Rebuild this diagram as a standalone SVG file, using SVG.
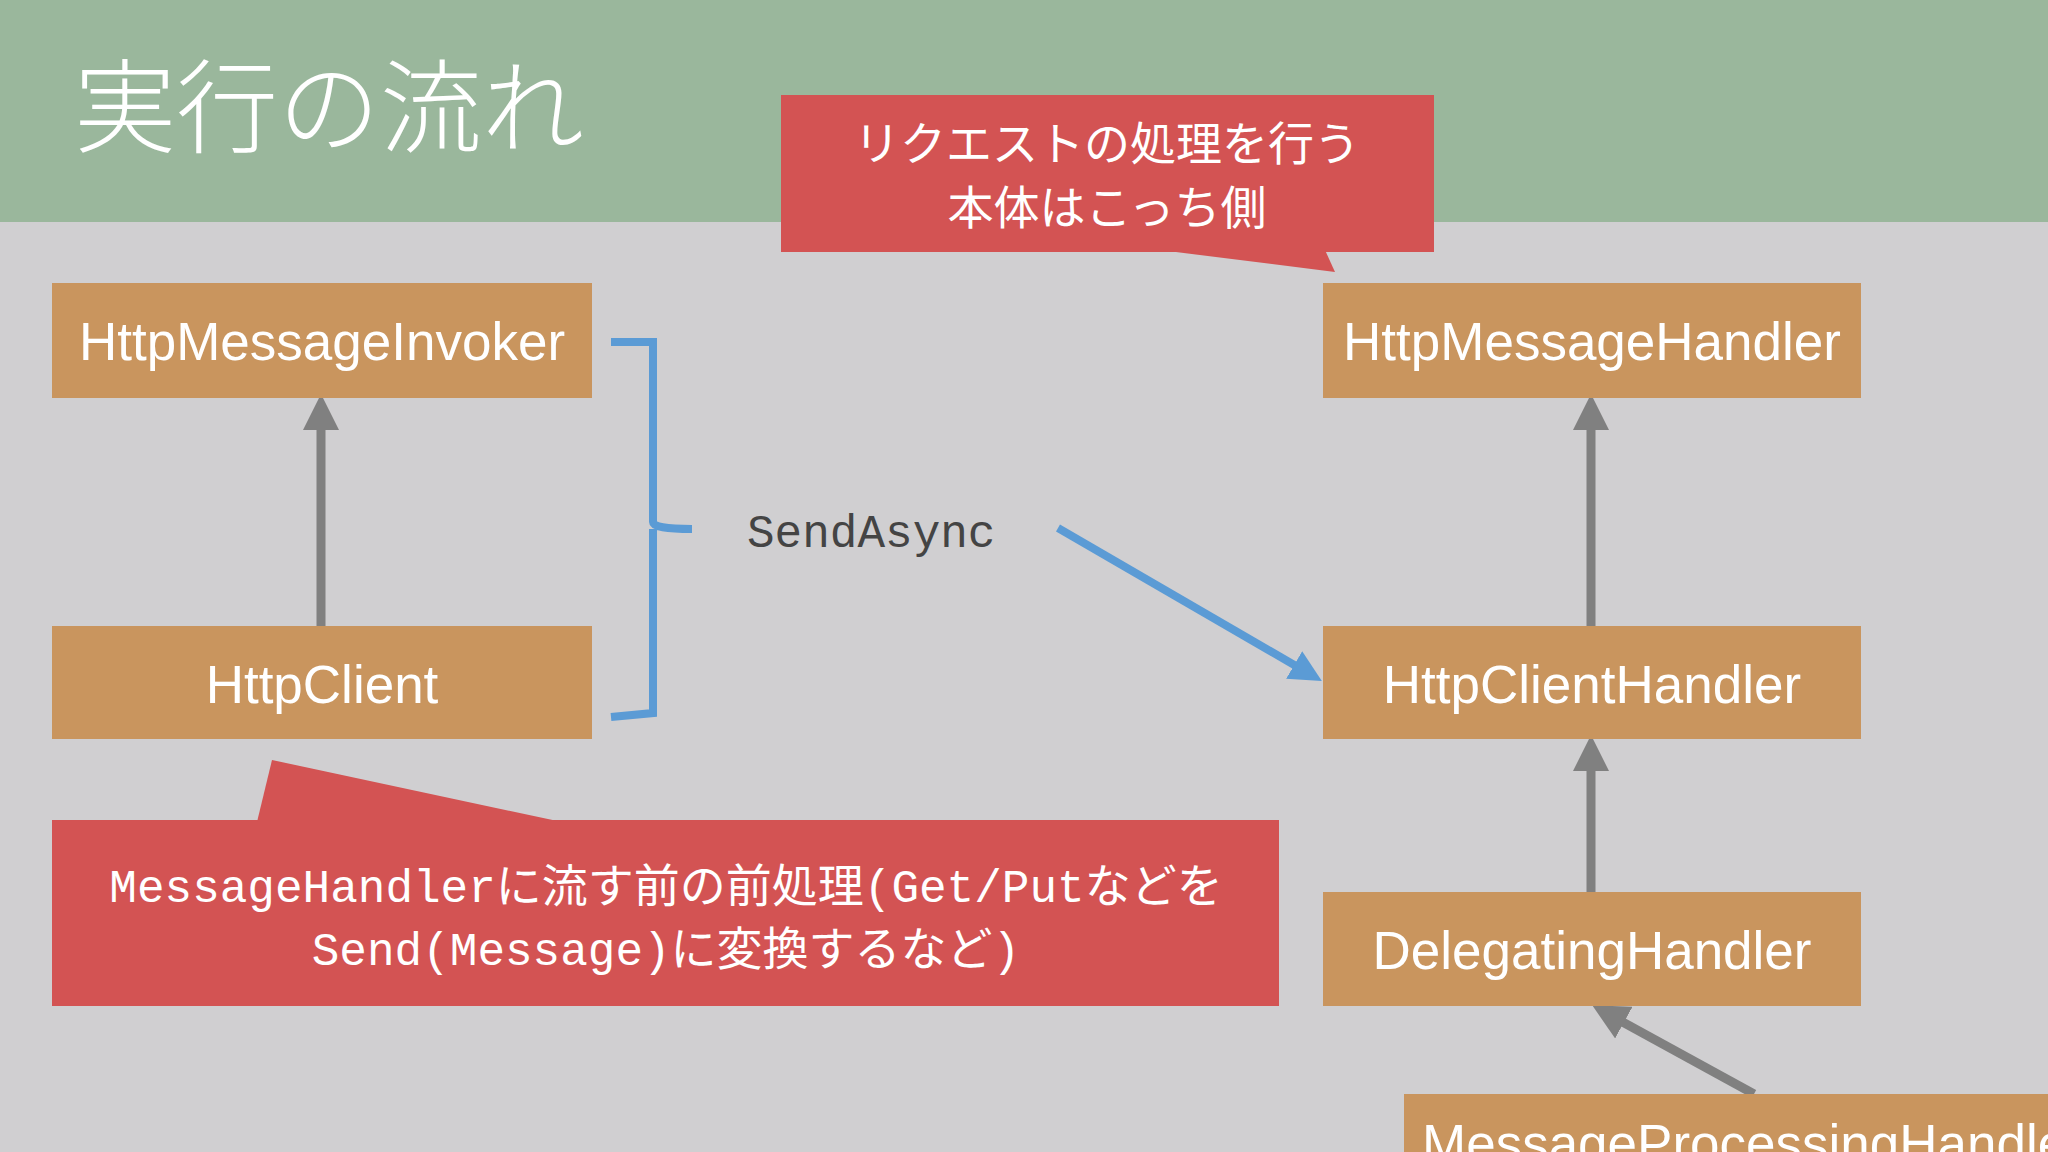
<svg xmlns="http://www.w3.org/2000/svg" width="2048" height="1152" viewBox="0 0 2048 1152">
<style>
.box{fill:#c9955e}
.bt{font-family:"Liberation Sans",Arial,sans-serif;font-size:53px;fill:#fff;text-anchor:middle}
.red{fill:#d35353}
.rt{font-family:"Liberation Mono","Noto Sans CJK JP",monospace;font-size:46px;fill:#fff;text-anchor:middle}
.ga{stroke:#808080;stroke-width:9;fill:none}
.bl{stroke:#5b9bd5;stroke-width:8;fill:none}
</style>
<defs>
<marker id="ah" markerWidth="4" markerHeight="4" refX="2" refY="2" orient="auto" markerUnits="strokeWidth"><path d="M0,0L4,2L0,4z" fill="#808080"/></marker>
<marker id="bh" markerWidth="4" markerHeight="4" refX="2" refY="2" orient="auto" markerUnits="strokeWidth"><path d="M0,0L4,2L0,4z" fill="#5b9bd5"/></marker>
</defs>
<rect width="2048" height="1152" fill="#d0cfd1"/>
<rect width="2048" height="222" fill="#9ab79c"/>
<text x="74" y="145" font-family="'Noto Sans CJK JP',sans-serif" font-weight="300" font-size="102" fill="#fff">実行の流れ</text>
<g id="connectors">
<line class="ga" x1="321" y1="626" x2="321" y2="412" marker-end="url(#ah)"/>
<line class="ga" x1="1591" y1="626" x2="1591" y2="412" marker-end="url(#ah)"/>
<line class="ga" x1="1591" y1="892" x2="1591" y2="753" marker-end="url(#ah)"/>
<line class="ga" x1="1754" y1="1094" x2="1608" y2="1014" marker-end="url(#ah)"/>
<path class="bl" d="M611,342 L653,342 L653,522 Q653,529 692,529 M653,529 L653,713 L611,717"/>
<line class="bl" x1="1058" y1="528" x2="1308" y2="673" marker-end="url(#bh)"/>
</g>
<text x="747" y="547" font-family="'Liberation Mono',monospace" font-size="46" fill="#444">SendAsync</text>
<g id="n1"><rect class="box" x="52" y="283" width="540" height="115"/><text class="bt" x="322" y="360">HttpMessageInvoker</text></g>
<g id="n2"><rect class="box" x="52" y="626" width="540" height="113"/><text class="bt" x="322" y="703">HttpClient</text></g>
<g id="n3"><rect class="box" x="1323" y="283" width="538" height="115"/><text class="bt" x="1592" y="360">HttpMessageHandler</text></g>
<g id="n4"><rect class="box" x="1323" y="626" width="538" height="113"/><text class="bt" x="1592" y="703">HttpClientHandler</text></g>
<g id="n5"><rect class="box" x="1323" y="892" width="538" height="114"/><text class="bt" x="1592" y="969">DelegatingHandler</text></g>
<g id="n6"><rect class="box" x="1404" y="1094" width="700" height="80"/><text class="bt" x="1422" y="1162" style="text-anchor:start">MessageProcessingHandler</text></g>
<g id="c1"><rect class="red" x="781" y="95" width="653" height="157"/><path class="red" d="M1160,250 L1325,250 L1335,272 Z"/>
<text class="rt" x="1107" y="160">リクエストの処理を行う</text><text class="rt" x="1107" y="224">本体はこっち側</text></g>
<g id="c2"><rect class="red" x="52" y="820" width="1227" height="186"/><path class="red" d="M257,822 L272,760 L562,822 Z"/>
<text class="rt" x="666" y="902">MessageHandlerに流す前の前処理(Get/Putなどを</text><text class="rt" x="666" y="965">Send(Message)に変換するなど)</text></g>
</svg>
